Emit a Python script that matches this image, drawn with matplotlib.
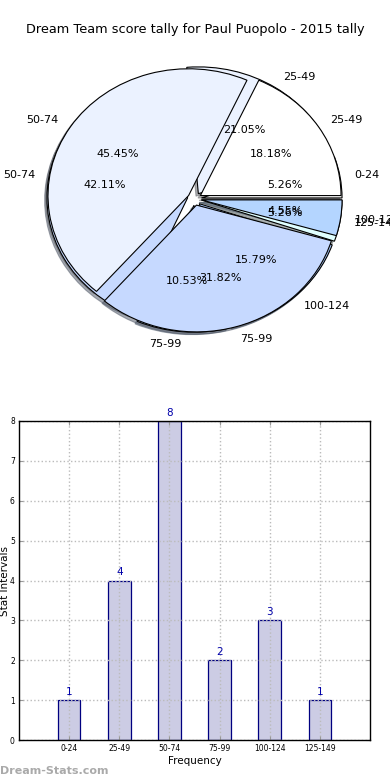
import matplotlib
matplotlib.use("Agg")
import matplotlib.pyplot as plt

title = "Dream Team score tally for Paul Puopolo - 2015 tally"

# Pie 1 (2015 tally, 19 scores)
labels1 = ["0-24", "25-49", "50-74", "75-99", "100-124", "125-149"]
values1 = [1, 4, 8, 2, 3, 1]
# Pie 2 (overlaid second tally, 22 scores)
labels2 = ["25-49", "50-74", "75-99", "100-124"]
values2 = [4, 10, 7, 1]

pie_colors = ["#FFFFFF", "#EBF2FF", "#C6D9FF", "#B4D5FF", "#A8C8F8", "#E0FFFF"]

# Bar chart
bar_labels = ["0-24", "25-49", "50-74", "75-99", "100-124", "125-149"]
bar_values = [1, 4, 8, 2, 3, 1]

fig = plt.figure(figsize=(3.9, 7.8), dpi=100)

fig.text(0.5, 1 - 30 / 780, title, ha="center", va="center", fontsize=9.3)

# ---- Pie axes ----
px_x, px_y = 140.6, 126.8
cx, cy = 194.5, 199.0
lim = 1.3
w = 2 * lim * px_x
h = 2 * lim * px_y
ax1 = fig.add_axes([(cx - w / 2) / 390, 1 - (cy + h / 2) / 780, w / 390, h / 780])

wedgeprops = dict(edgecolor="black", linewidth=0.8)
textprops = dict(fontsize=8)
shadow = dict(ox=-0.012, oy=-0.014, shade=0.6)
ax1.pie(values1, labels=labels1, colors=pie_colors[:len(values1)],
        explode=[0.05] * len(values1), autopct="%.2f%%", shadow=shadow,
        startangle=0, counterclock=True, wedgeprops=wedgeprops,
        textprops=textprops)
ax1.pie(values2, labels=labels2, colors=pie_colors[:len(values2)],
        explode=[0.05] * len(values2), autopct="%.2f%%", shadow=shadow,
        startangle=0, counterclock=True, wedgeprops=wedgeprops,
        textprops=textprops)
ax1.set_xlim(-lim, lim)
ax1.set_ylim(-lim, lim)
ax1.set_aspect("auto")
ax1.axis("off")

# ---- Bar axes ----
ax2 = fig.add_axes([19 / 390, 40 / 780, 351 / 390, 319 / 780])
x = list(range(len(bar_values)))
ax2.bar(x, bar_values, width=0.45, color="#CCCCE4", edgecolor="#000080",
        linewidth=0.9, zorder=1)
ax2.set_xlim(-1, 6)
ax2.set_ylim(0, 8)
ax2.set_xticks(x)
ax2.set_xticklabels(bar_labels, fontsize=5.5)
ax2.set_yticks(range(0, 9))
ax2.tick_params(axis="y", labelsize=5.5)
ax2.tick_params(direction="in", length=3, top=True, right=True, pad=3,
                color="#999999")
ax2.grid(True, linestyle=":", color="#BBBBBB", linewidth=1.0)
ax2.set_axisbelow(False)
for sp in ax2.spines.values():
    sp.set_zorder(5)
    sp.set_linewidth(1.0)
for xi, v in zip(x, bar_values):
    ax2.text(xi, v + 0.08, str(v), ha="center", va="bottom", color="#0000AA",
             fontsize=7.5)
ax2.set_xlabel("Frequency", fontsize=7.5, labelpad=2)
ax2.set_ylabel("Stat Intervals", fontsize=7.5)
ax2.yaxis.set_label_coords(-0.026, 0.5)

fig.text(0.0, 1 - 771 / 780, "Dream-Stats.com", ha="left", va="center",
         fontsize=8, color="#AAAAAA", fontweight="bold")

fig.savefig("out.png", dpi=100)
